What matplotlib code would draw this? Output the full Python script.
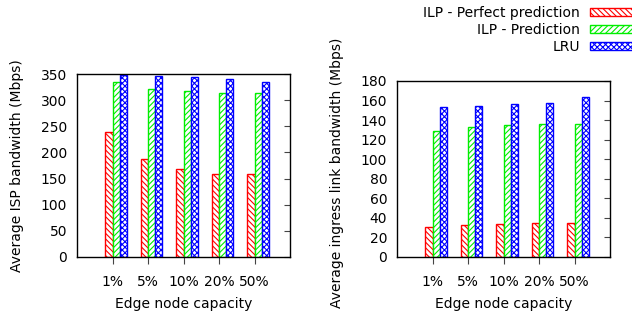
import matplotlib
matplotlib.use("Agg")
import matplotlib.pyplot as plt
import numpy as np

plt.rcParams['font.family'] = 'DejaVu Sans'
plt.rcParams['font.size'] = 10
plt.rcParams['hatch.linewidth'] = 0.8

capacities = ["1%", "5%", "10%", "20%", "50%"]
series = ["ILP - Perfect prediction", "ILP - Prediction", "LRU"]

isp_perfect = [239, 188, 168, 159, 159]
isp_pred = [334, 321, 317, 313, 313]
isp_lru = [349, 346, 344, 340, 335]

ingress_perfect = [31, 33, 34, 35, 35]
ingress_pred = [129, 133, 135, 136, 136]
ingress_lru = [153, 154, 156, 158, 164]

colors = ["#ff0000", "#00ee00", "#0000ff"]
hatches = ["\\\\\\\\\\\\", "//////", "xxxxxx"]

fig = plt.figure(figsize=(6.32, 3.18), dpi=100)
ax1 = fig.add_axes([77 / 632, 1 - 257 / 318, 213 / 632, 183 / 318])
ax2 = fig.add_axes([397 / 632, 1 - 257 / 318, 213 / 632, 176 / 318])

x = np.arange(len(capacities))
w = 0.2


def draw(ax, groups, ymax, ystep, ylabel, label_y):
    handles = []
    for k, vals in enumerate(groups):
        b = ax.bar(x + (k - 1) * w, vals, width=w, align='edge',
                   facecolor='white', edgecolor=colors[k],
                   hatch=hatches[k], linewidth=1.0, label=series[k])
        handles.append(b)
    ax.set_xlim(-1, 5)
    ax.set_ylim(0, ymax)
    ax.set_xticks(x)
    ax.set_xticklabels(capacities)
    ax.set_yticks(np.arange(0, ymax + 1, ystep))
    ax.tick_params(axis='x', direction='out', length=5, pad=8,
                   color='#444444')
    ax.tick_params(axis='y', direction='in', left=False, right=True,
                   length=4, pad=7, color='#444444')
    ax.set_xlabel("Edge node capacity", labelpad=6)
    ax.set_ylabel(ylabel)
    ax.yaxis.set_label_coords(-0.25, label_y)
    for s in ax.spines.values():
        s.set_linewidth(1.0)
    return handles


h = draw(ax1, [isp_perfect, isp_pred, isp_lru], 350, 50,
         "Average ISP bandwidth (Mbps)", 0.497)
draw(ax2, [ingress_perfect, ingress_pred, ingress_lru], 180, 20,
     "Average ingress link bandwidth (Mbps)", 0.48)

fig.legend(handles=h, loc='upper right', bbox_to_anchor=(648 / 632, 1 - 3 / 318),
           frameon=False, markerfirst=False, handlelength=4.0,
           handleheight=0.5, handletextpad=0.7, labelspacing=0.22,
           borderaxespad=0, borderpad=0.2)

fig.savefig("out.png", dpi=100)
